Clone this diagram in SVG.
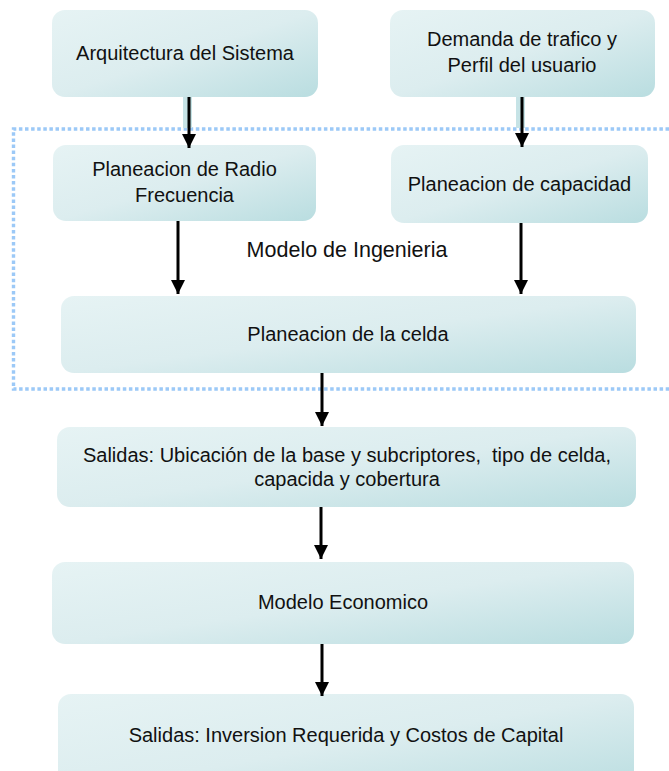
<svg xmlns="http://www.w3.org/2000/svg" width="669" height="771" viewBox="0 0 669 771">
<defs>
<linearGradient id="boxfill" x1="0" y1="0" x2="1" y2="1">
<stop offset="0" stop-color="#e6f3f4"/>
<stop offset="0.5" stop-color="#dcedef"/>
<stop offset="1" stop-color="#b9dde0"/>
</linearGradient>
<marker id="ah" markerUnits="userSpaceOnUse" markerWidth="14" markerHeight="14" refX="14" refY="7" orient="auto">
<path d="M0,0 L14,7 L0,14 z" fill="#000"/>
</marker>
</defs>
<style>
.box{fill:url(#boxfill);}
.t{font-family:"Liberation Sans",Arial,sans-serif;font-size:20px;fill:#111;text-anchor:middle;white-space:pre;}
.c{stroke:#000;stroke-width:3;fill:none;marker-end:url(#ah);}
.shade{fill:#c6e3e6;}
.frame{fill:none;stroke:#9cc9f7;stroke-width:3.4;stroke-dasharray:3.5 2.6;}
</style>
<rect width="669" height="771" fill="#fff"/>
<g id="frame">
<path class="frame" d="M669,129 L13.5,129 L13.5,389 L669,389"/>
<text class="t" x="347" y="257" style="font-size:21.5px">Modelo de Ingenieria</text>
</g>
<g id="n1"><rect class="box" x="52" y="10" width="266" height="87" rx="13"/><text class="t" x="185" y="60">Arquitectura del Sistema</text></g>
<g id="n2"><rect class="box" x="390" y="10" width="265" height="87" rx="13"/><text class="t" x="522" y="46">Demanda de trafico y</text><text class="t" x="522" y="72">Perfil del usuario</text></g>
<g id="n3"><rect class="box" x="53" y="145" width="263" height="76" rx="13"/><text class="t" x="184.5" y="176">Planeacion de Radio</text><text class="t" x="184.5" y="202">Frecuencia</text></g>
<g id="n4"><rect class="box" x="391" y="145" width="257" height="78" rx="13"/><text class="t" x="519.5" y="191">Planeacion de capacidad</text></g>
<g id="n5"><rect class="box" x="61" y="296" width="575" height="77" rx="13"/><text class="t" x="348" y="341">Planeacion de la celda</text></g>
<g id="n6"><rect class="box" x="57" y="427" width="579" height="80" rx="13"/><text class="t" x="347" y="462" xml:space="preserve">Salidas: Ubicación de la base y subcriptores,  tipo de celda,</text><text class="t" x="347" y="486">capacida y cobertura</text></g>
<g id="n7"><rect class="box" x="52" y="562" width="582" height="82" rx="13"/><text class="t" x="343" y="609">Modelo Economico</text></g>
<g id="n8"><rect class="box" x="58" y="694" width="576" height="100" rx="13"/><text class="t" x="346" y="742">Salidas: Inversion Requerida y Costos de Capital</text></g>
<g id="connectors">
<rect class="shade" x="183" y="97" width="9" height="31"/>
<rect class="shade" x="516" y="97" width="9" height="31"/>
<line class="c" x1="189" y1="97" x2="189" y2="148"/>
<line class="c" x1="522" y1="97" x2="522" y2="147"/>
<line class="c" x1="178" y1="221" x2="178" y2="294"/>
<line class="c" x1="521" y1="223" x2="521" y2="294"/>
<line class="c" x1="322" y1="373" x2="322" y2="426"/>
<line class="c" x1="321" y1="507" x2="321" y2="559"/>
<line class="c" x1="322" y1="644" x2="322" y2="696"/>
</g>
</svg>
